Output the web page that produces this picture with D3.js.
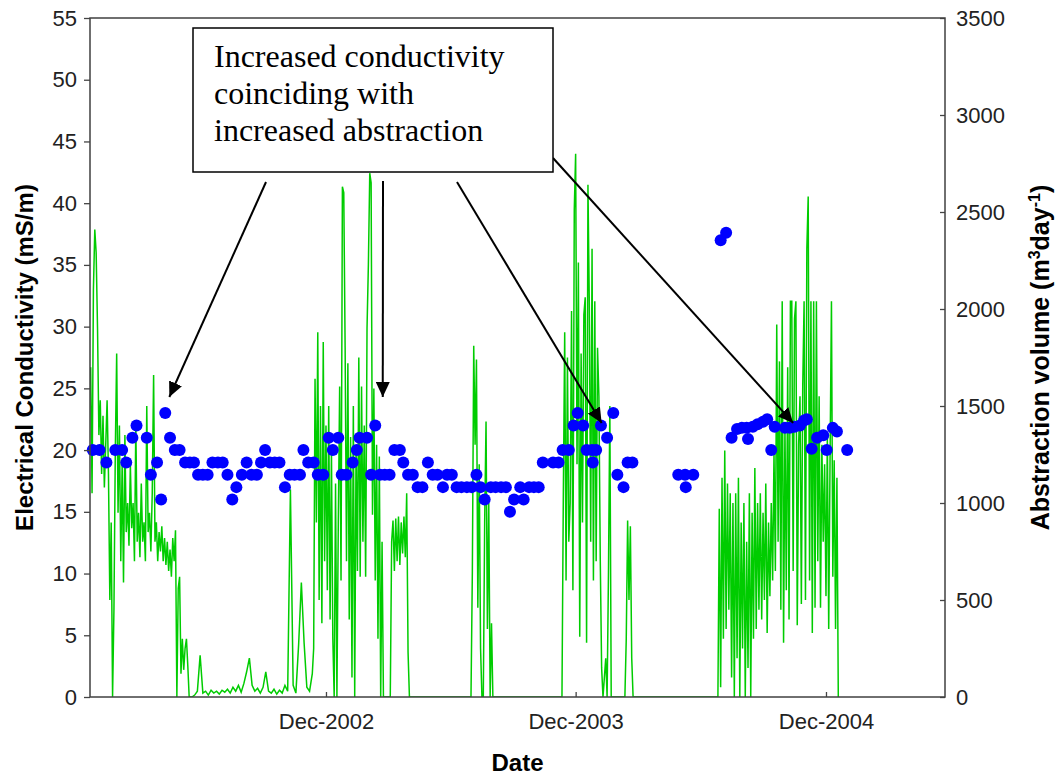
<!DOCTYPE html>
<html><head><meta charset="utf-8">
<script src="https://cdn.jsdelivr.net/npm/d3@7"></script>
<style>body{margin:0;background:#fff} svg{display:block}</style>
</head><body><svg id="c" width="1058" height="776"></svg>
<script>
// ---------------- DATA ----------------
// Electrical conductivity samples (mS/m), left axis
const ecDates = [
"2001-12-25","2002-01-04","2002-01-14","2002-01-27","2002-02-06","2002-02-12","2002-02-21","2002-02-27","2002-03-14","2002-03-20",
"2002-03-29","2002-04-04","2002-04-10","2002-04-17","2002-04-24","2002-05-01","2002-05-09","2002-05-16","2002-05-22","2002-05-28",
"2002-06-04","2002-06-11","2002-06-18","2002-06-26","2002-07-03","2002-07-10","2002-07-17","2002-07-23","2002-07-31","2002-08-07",
"2002-08-14","2002-08-22","2002-08-28","2002-09-03","2002-09-10","2002-09-17","2002-09-24","2002-10-02","2002-10-09","2002-10-16",
"2002-10-24","2002-10-29","2002-11-05","2002-11-13","2002-11-19","2002-11-27","2002-12-05","2002-12-11","2002-12-19","2002-12-24",
"2002-12-31","2003-01-09","2003-01-15","2003-01-19","2003-01-30","2003-02-05","2003-02-11","2003-02-18","2003-02-25","2003-03-04",
"2003-03-11","2003-03-19","2003-03-24","2003-03-31","2003-04-07","2003-04-14","2003-04-21","2003-04-29","2003-05-06","2003-05-13",
"2003-05-21","2003-05-27","2003-06-03","2003-06-10","2003-06-17","2003-06-25","2003-07-02","2003-07-09","2003-07-15","2003-07-21",
"2003-07-30","2003-08-06","2003-08-14","2003-08-21","2003-08-27","2003-09-02","2003-09-11","2003-09-16","2003-09-24","2003-10-01",
"2003-10-08","2003-10-14","2003-10-29","2003-11-06","2003-11-12","2003-11-21","2003-11-28","2003-12-04","2003-12-12","2003-12-17",
"2003-12-25","2003-12-26","2003-12-31","2004-01-07","2004-01-16","2004-01-25","2004-01-31","2004-02-09","2004-02-15","2004-02-22",
"2004-04-29","2004-05-09","2004-05-10","2004-05-21",
"2004-06-30","2004-07-08","2004-07-16","2004-07-24","2004-07-31","2004-08-07","2004-08-09","2004-08-16","2004-08-23","2004-08-31",
"2004-09-06","2004-09-12","2004-09-17","2004-10-02","2004-10-09","2004-10-16","2004-10-24","2004-10-30","2004-11-03","2004-11-10",
"2004-11-18","2004-11-27","2004-12-02","2004-12-11","2004-12-17","2005-01-01"
];
const ecValues = [
20,20,19,20,20,19,21,22,21,18,
19,16,23,21,20,20,19,19,19,18,
18,18,19,19,19,18,16,17,18,19,
18,18,19,20,19,19,19,17,18,18,
18,20,19,19,18,18,21,20,21,18,
18,19,20,21,21,18,22,18,18,18,
20,20,19,18,18,17,17,19,18,18,
17,18,18,17,17,17,17,18,17,16,
17,17,17,17,15,16,17,16,17,17,
17,19,19,19,20,20,22,23,22,20,
20,19,20,22,21,23,18,17,19,19,
18,18,17,18,
37.0,37.6,21.0,21.7,21.8,21.8,20.9,21.9,22.1,22.3,
22.5,20.0,21.9,21.8,21.8,21.9,22.0,22.4,22.5,20.1,
21.0,21.2,20.0,21.8,21.5,20.0
];

// Abstraction volume (m3/day), right axis: recorded periods, one value per step (days)
const absStart = ["2001-12-22","2002-05-19","2002-11-13","2003-06-29","2003-11-11","2004-06-26"];
const absStep  = [2, 4, 2, 2, 2, 2];
const abs2002a = [1700,1050,2100,2410,2290,1900,1350,1530,1150,1450,
 1080,1300,1530,1150,500,900,0,450,1270,1770,
 950,1400,700,1200,590,1350,850,1000,780,1200,
 870,1000,700,1400,800,950,720,1100,800,900,
 700,1500,850,950,750,1050,1660,800,900,700,
 850,750,880,700,820,680,800,650,760,620,
 820,700,860,0,560,620,120,300,140,250,
 300,160,0];
const abs2002b = [0,10,30,215,20,30,10,35,20,30,
 15,35,25,40,20,50,30,60,25,70,
 130,200,60,30,45,20,50,130,30,20,
 40,15,35,20,60,30,1070,60,20,270,
 590,280,50,30,120];
const abs2003a = [250,1640,900,1880,500,1500,380,1830,700,1400,
 550,1500,400,1270,300,0,1100,0,900,1600,
 600,2630,2600,1800,700,1720,400,1340,100,1500,
 0,1300,650,1750,620,1600,800,1400,620,1900,
 2230,2700,2650,940,1590,600,1300,300,1240,0,
 800,0,0,0,0,0,0,800,910,650,
 920,700,930,680,900,740,930,720,1050,230,
 0];
const abs2003b = [0,0,650,1810,1300,1740,460,1200,250,0,
 0,900,1420,350,1000,0,380,0];
const abs2004a = [0,1040,1880,600,1750,800,1000,1990,550,2510,
 2800,1200,2240,310,1770,900,1970,2060,280,2640,
 2020,800,2310,600,2040,700,1800,1550,710,150,
 0,100,200,0,640,1500,0,0,0,0,
 0,0,0,0,0,0,0,300,910,500,
 880,200,0];
const abs2004b = [0,970,50,1130,300,1270,350,1100,450,1050,
 100,1000,0,1050,200,1130,0,900,250,1000,
 0,800,150,1050,0,950,300,1180,350,1000,
 450,1050,400,950,500,1100,330,900,520,1000,
 600,1260,650,1920,800,1730,450,2040,280,1400,
 550,1700,400,2040,2040,650,1950,2040,370,1300,
 1550,480,1600,2040,500,2310,2580,600,2040,330,
 2040,460,2040,700,1550,460,1300,800,1200,520,
 1350,350,1250,2040,620,1220,350,1130,0];
const absSegments = [abs2002a, abs2002b, abs2003a, abs2003b, abs2004a, abs2004b];

// Ticks
const ecTicks = [0,5,10,15,20,25,30,35,40,45,50,55];
const absTicks = [0,500,1000,1500,2000,2500,3000,3500];
const dateTicks = ["2002-12-01","2003-12-01","2004-12-01"];
const dateTickLabels = ["Dec-2002","Dec-2003","Dec-2004"];
const xDomain = ["2001-12-21","2005-05-24"];

// Annotation
const noteLines = ["Increased conductivity","coinciding with","increased abstraction"];
const arrowTipDates = ["2002-04-16","2003-02-22","2004-01-08","2004-10-14"];
const arrowTipValues = [24.3, 24.3, 22.2, 22.2];

// ---------------- CHART ----------------
const W=1058,H=776;
const m={l:90,r:945,t:18,b:697};
const parse=d3.timeParse("%Y-%m-%d");
const x=d3.scaleTime().domain(xDomain.map(parse)).range([m.l,m.r]);
const yL=d3.scaleLinear().domain([0,55]).range([m.b,m.t]);
const yR=d3.scaleLinear().domain([0,3500]).range([m.b,m.t]);
const sans='"Liberation Sans", Arial, sans-serif';
const serif='"Liberation Serif", "Times New Roman", serif';

const svg=d3.select("#c");
svg.append("rect").attr("width",W).attr("height",H).attr("fill","#fff");
svg.append("defs").append("clipPath").attr("id","plot").append("rect")
  .attr("x",m.l).attr("y",m.t).attr("width",m.r-m.l).attr("height",m.b-m.t);

// abstraction line
const pts=[];
absSegments.forEach((vals,s)=>{
  const st=parse(absStart[s]);
  vals.forEach((v,i)=>pts.push({date:d3.timeDay.offset(st,i*absStep[s]),v}));
});
svg.append("path").datum(pts)
  .attr("clip-path","url(#plot)")
  .attr("d",d3.line().x(d=>x(d.date)).y(d=>yR(d.v)))
  .attr("fill","none").attr("stroke","#00cc00").attr("stroke-width",1.5);

// EC dots
const ec=ecDates.map((d,i)=>({date:parse(d),v:ecValues[i]}));
svg.append("g").selectAll("circle").data(ec).join("circle")
  .attr("cx",d=>x(d.date)).attr("cy",d=>yL(d.v)).attr("r",6)
  .attr("fill","#0000ff");

// axes
function styleAxis(g){
  g.select(".domain").remove();
  g.selectAll(".tick line").attr("stroke","#444").attr("stroke-width",1.3);
  g.selectAll(".tick text").attr("fill","#222").style("font-family",sans).style("font-size","22px");
}
svg.append("g").attr("transform",`translate(${m.l},0)`)
  .call(d3.axisLeft(yL).tickValues(ecTicks).tickFormat(d3.format("d")).tickSizeInner(6).tickSizeOuter(0).tickPadding(7))
  .call(styleAxis);
svg.append("g").attr("transform",`translate(${m.r},0)`)
  .call(d3.axisRight(yR).tickValues(absTicks).tickFormat(d3.format("d")).tickSizeInner(-5).tickSizeOuter(0).tickPadding(11))
  .call(styleAxis);
svg.append("g").attr("transform",`translate(0,${m.b})`)
  .call(d3.axisBottom(x).tickValues(dateTicks.map(parse)).tickFormat((d,i)=>dateTickLabels[i])
    .tickSizeInner(-5).tickSizeOuter(0).tickPadding(16))
  .call(styleAxis);

// frame
svg.append("rect").attr("x",m.l).attr("y",m.t).attr("width",m.r-m.l).attr("height",m.b-m.t)
  .attr("fill","none").attr("stroke","#404040").attr("stroke-width",1.5);

// titles
svg.append("text").attr("transform",`translate(33,${(m.t+m.b)/2}) rotate(-90)`)
  .attr("text-anchor","middle").style("font-family",sans).style("font-size","24px").style("font-weight","bold")
  .text("Electrical Conductivity (mS/m)");
const rt=svg.append("text").attr("transform",`translate(1049,${(m.t+m.b)/2}) rotate(-90)`)
  .attr("text-anchor","middle").style("font-family",sans).style("font-size","25px").style("font-weight","bold");
rt.append("tspan").text("Abstraction volume (m");
rt.append("tspan").attr("dy",-9).style("font-size","16px").text("3");
rt.append("tspan").attr("dy",9).text("day");
rt.append("tspan").attr("dy",-9).style("font-size","16px").text("-1");
rt.append("tspan").attr("dy",9).text(")");
svg.append("text").attr("x",(m.l+m.r)/2).attr("y",771).attr("text-anchor","middle")
  .style("font-family",sans).style("font-size","24px").style("font-weight","bold").text("Date");

// annotation
const defs=svg.select("defs");
defs.append("marker").attr("id","ah").attr("viewBox","0 0 15 14").attr("refX",15).attr("refY",7)
  .attr("markerUnits","userSpaceOnUse").attr("markerWidth",15).attr("markerHeight",14).attr("orient","auto")
  .append("path").attr("d","M0,0L15,7L0,14Z").attr("fill","#000");
const box={x:193,y:28,w:360,h:144};
const starts=[[266,182],[383,181],[457,182],[553,158]];
starts.forEach((s,i)=>{
  svg.append("line").attr("x1",s[0]).attr("y1",s[1])
    .attr("x2",x(parse(arrowTipDates[i]))).attr("y2",yL(arrowTipValues[i]))
    .attr("stroke","#000").attr("stroke-width",2).attr("marker-end","url(#ah)");
});
svg.append("rect").attr("x",box.x).attr("y",box.y).attr("width",box.w).attr("height",box.h)
  .attr("fill","#fff").attr("stroke","#000").attr("stroke-width",1.5);
noteLines.forEach((t,i)=>{
  svg.append("text").attr("x",214).attr("y",67+i*37)
    .style("font-family",serif).style("font-size","32px").attr("fill","#000").text(t);
});
</script></body></html>
